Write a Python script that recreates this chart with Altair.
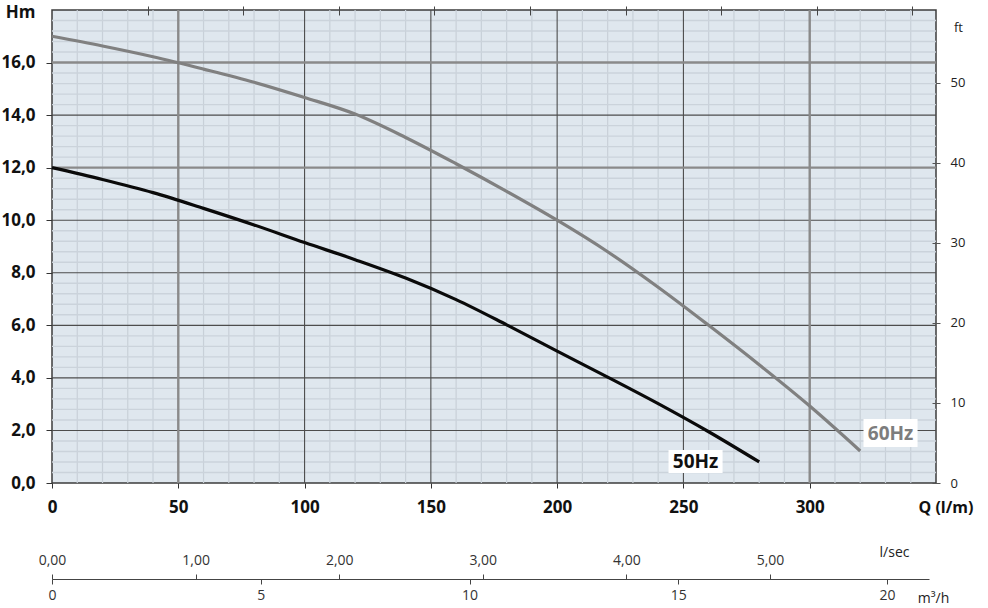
import altair as alt
import pandas as pd

# ---- data ----
q_50 = [0, 20, 40, 60, 80, 100, 120, 140, 160, 180, 200, 220, 240, 260, 280]
h_50 = [12.0, 11.55, 11.05, 10.45, 9.82, 9.15, 8.5, 7.8, 6.98, 6.02, 5.02, 4.03, 3.02, 1.95, 0.8]
q_60 = [0, 20, 40, 60, 80, 100, 120, 140, 160, 180, 200, 220, 240, 260, 280, 300, 320]
h_60 = [17.0, 16.63, 16.22, 15.75, 15.25, 14.67, 14.04, 13.15, 12.15, 11.1, 10.0, 8.8, 7.45, 6.0, 4.5, 2.93, 1.22]

x_ticks = [0, 50, 100, 150, 200, 250, 300]
y_ticks = [0, 2, 4, 6, 8, 10, 12, 14, 16]
ft_ticks = [0, 10, 20, 30, 40, 50]
gpm_ticks = [10, 20, 30, 40, 50, 60, 70, 80, 90]
lsec_ticks = [0, 1, 2, 3, 4, 5]
m3h_ticks = [0, 5, 10, 15, 20]

label_names = ["50Hz", "60Hz"]
label_q = [254.8, 332.0]
label_h = [0.80, 1.85]
box_q1 = [244.1, 321.3]
box_q2 = [265.5, 342.7]
box_h1 = [0.38, 1.37]
box_h2 = [1.26, 2.44]
label_colors = ["#111111", "#7d7d7d"]

# grid positions
minor_x = [v for v in range(10, 350, 10) if v % 50 != 0]
minor_y = [round(i * 0.4, 1) for i in range(1, 45) if i % 5 != 0]
major_dark_x = [100, 150, 200, 250]
major_gray_x = [50, 300]
major_dark_y = [2, 4, 6, 8, 10, 14]
major_gray_y = [12, 16]

FONT = "Open Sans"
XS = alt.Scale(domain=[0, 350], nice=False, zero=False)
YS = alt.Scale(domain=[0, 18], nice=False, zero=False)

curves = pd.DataFrame({
    "q": q_50 + q_60,
    "h": h_50 + h_60,
    "s": ["50Hz"] * len(q_50) + ["60Hz"] * len(q_60),
})
labels = pd.DataFrame({"name": label_names, "q": label_q, "h": label_h,
                       "q1": box_q1, "q2": box_q2, "h1": box_h1, "h2": box_h2,
                       "c": label_colors})


def vrules(vals, color, width):
    return alt.Chart(pd.DataFrame({"v": vals})).mark_rule(color=color, strokeWidth=width).encode(
        x=alt.X("v:Q", scale=XS, axis=None))


def hrules(vals, color, width):
    return alt.Chart(pd.DataFrame({"v": vals})).mark_rule(color=color, strokeWidth=width).encode(
        y=alt.Y("v:Q", scale=YS, axis=None))


x_axis = alt.Axis(orient="bottom", values=x_ticks, format="d", tickSize=5, tickColor="#333333",
                  tickWidth=1, domain=False, grid=False, labelFlush=False,
                  labelFont=FONT, labelFontSize=17, labelFontWeight="bold", labelColor="#111111",
                  labelPadding=11, title="Q (l/m)", titleFont=FONT, titleFontSize=16,
                  titleFontWeight="bold", titleColor="#111111", titleX=866, titleY=24,
                  titleAlign="left", titleBaseline="middle")
y_axis = alt.Axis(orient="left", values=y_ticks,
                  labelExpr="replace(format(datum.value, '.1f'), '.', ',')",
                  tickSize=6, tickColor="#333333", domain=False, grid=False,
                  labelFont=FONT, labelFontSize=17, labelFontWeight="bold", labelColor="#111111",
                  labelPadding=11, title="Hm", titleFont=FONT, titleFontSize=17,
                  titleFontWeight="bold", titleColor="#111111", titleAngle=0,
                  titleX=-32, titleY=2, titleAlign="center", titleBaseline="middle")

lines = alt.Chart(curves).mark_line(strokeWidth=3.2, interpolate="catmull-rom").encode(
    x=alt.X("q:Q", scale=XS, axis=None),
    y=alt.Y("h:Q", scale=YS, axis=None),
    color=alt.Color("s:N", scale=alt.Scale(domain=["50Hz", "60Hz"], range=["#0a0a0a", "#808080"]),
                    legend=None),
)

boxes = alt.Chart(labels).mark_rect(color="white").encode(
    x=alt.X("q1:Q", scale=XS, axis=None), x2="q2:Q",
    y=alt.Y("h1:Q", scale=YS, axis=None), y2="h2:Q")

texts = alt.Chart(labels).mark_text(font=FONT, fontSize=19, fontWeight="bold",
                                    align="center", baseline="middle").encode(
    x=alt.X("q:Q", scale=XS, axis=None),
    y=alt.Y("h:Q", scale=YS, axis=None),
    text="name:N",
    color=alt.Color("c:N", scale=None))

inner = alt.layer(
    vrules(minor_x, "#c8d0d8", 1.2),
    hrules(minor_y, "#cbd3db", 1.4),
    vrules(major_dark_x, "#4d4d4d", 1.1),
    hrules(major_dark_y, "#4d4d4d", 1.1),
    vrules(major_gray_x, "#8a8a8a", 2.4),
    hrules(major_gray_y, "#8a8a8a", 2.4),
    lines, boxes, texts,
)

# main axes as their own layers
qx_layer = alt.Chart(pd.DataFrame({"q": x_ticks})).mark_point(opacity=0).encode(
    x=alt.X("q:Q", scale=XS, axis=x_axis))
hy_layer = alt.Chart(pd.DataFrame({"h": y_ticks})).mark_point(opacity=0).encode(
    y=alt.Y("h:Q", scale=YS, axis=y_axis))

# secondary axes
ft_layer = alt.Chart(pd.DataFrame({"ft": ft_ticks})).mark_point(opacity=0).encode(
    y=alt.Y("ft:Q", scale=alt.Scale(domain=[0, 18 * 3.28084], nice=False, zero=False),
            axis=alt.Axis(orient="right", values=ft_ticks, offset=-4, tickSize=8,
                          tickColor="#555555", domain=False, grid=False,
                          labelFont=FONT, labelFontSize=13, labelColor="#222222",
                          labelPadding=10, title="ft", titleFont=FONT, titleFontSize=13,
                          titleFontWeight="normal", titleColor="#222222", titleAngle=0,
                          titleX=26, titleY=17, titleAlign="center", titleBaseline="middle")))

gpm_layer = alt.Chart(pd.DataFrame({"g": gpm_ticks})).mark_point(opacity=0).encode(
    x=alt.X("g:Q", scale=alt.Scale(domain=[0, 350 / 3.78541], nice=False, zero=False),
            axis=alt.Axis(orient="top", values=gpm_ticks, offset=-5, tickSize=9,
                          tickColor="#444444", domain=False, grid=False, labels=False,
                          title="")))

lsec_layer = alt.Chart(pd.DataFrame({"l": lsec_ticks})).mark_point(opacity=0).encode(
    x=alt.X("l:Q", scale=alt.Scale(domain=[0, 877 / 143.6], range=[0, 877], nice=False, zero=False),
            axis=alt.Axis(orient="top", values=lsec_ticks, offset=-569, tickSize=5,
                          tickColor="#444444", domain=True, domainColor="#444444",
                          domainWidth=1.2, grid=False, labelFlush=False,
                          labelExpr="replace(format(datum.value, '.2f'), '.', ',')",
                          labelFont=FONT, labelFontSize=14, labelColor="#333333",
                          labelPadding=7, title="l/sec", titleFont=FONT, titleFontSize=14,
                          titleFontWeight="normal", titleColor="#222222",
                          titleX=842, titleY=-27, titleAlign="center", titleBaseline="middle")))

m3h_layer = alt.Chart(pd.DataFrame({"m": m3h_ticks})).mark_point(opacity=0).encode(
    x=alt.X("m:Q", scale=alt.Scale(domain=[0, 877 / 41.75], range=[0, 877], nice=False, zero=False),
            axis=alt.Axis(orient="bottom", values=m3h_ticks, offset=96, tickSize=5,
                          tickColor="#444444", domain=False, grid=False, labelFlush=False,
                          format="d", labelFont=FONT, labelFontSize=14, labelColor="#333333",
                          labelPadding=4, title="m³/h", titleFont=FONT, titleFontSize=14,
                          titleFontWeight="normal", titleColor="#222222",
                          titleX=881, titleY=19, titleAlign="center", titleBaseline="middle")))

chart = alt.layer(inner, qx_layer, hy_layer, ft_layer, gpm_layer, lsec_layer, m3h_layer).resolve_scale(
    x="independent", y="independent"
).properties(
    width=884, height=473, autosize="none",
    padding={"left": 52, "top": 10, "right": 52, "bottom": 125},
    background="white",
).configure_view(fill="#dfe7ee", stroke="#3c3c3c", strokeWidth=1.5)

chart.save("out.html", embed_options={"renderer": "svg", "actions": False})
